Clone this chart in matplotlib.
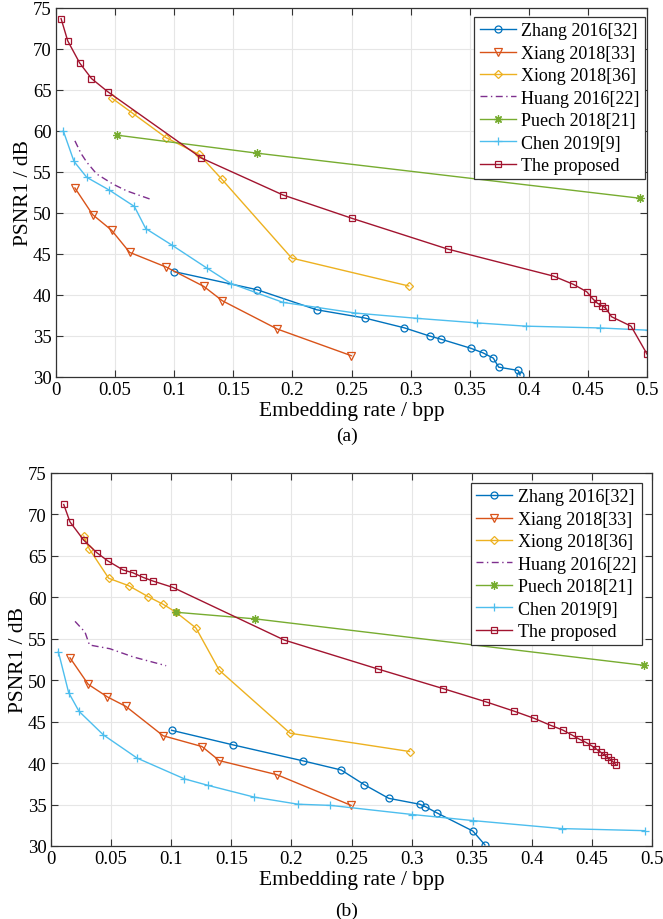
import numpy as np
import matplotlib

matplotlib.use("Agg")
import matplotlib.pyplot as plt

plt.rcParams["font.family"] = ["Liberation Serif", "DejaVu Serif"]

# ---- panel (a) ----
a_zhang_x = [0.100, 0.170, 0.2205, 0.261, 0.2946, 0.316, 0.326, 0.351, 0.361, 0.370, 0.3745, 0.391, 0.3926]
a_zhang_y = [42.85, 40.65, 38.2, 37.2, 36.0, 35.0, 34.6, 33.5, 32.96, 32.3, 31.2, 30.8, 30.24]
a_xiang_x = [0.016, 0.031, 0.047, 0.0623, 0.0933, 0.125, 0.1407, 0.1872, 0.2498]
a_xiang_y = [53.05, 49.8, 47.9, 45.2, 43.4, 41.05, 39.3, 35.85, 32.6]
a_xiong_x = [0.0474, 0.0645, 0.093, 0.121, 0.1404, 0.1994, 0.2984]
a_xiong_y = [64.0, 62.2, 59.2, 57.15, 54.1, 44.5, 41.1]
a_huang_x = [0.016, 0.021, 0.026, 0.0344, 0.0485, 0.0598, 0.0795]
a_huang_y = [58.8, 57.3, 56.2, 54.76, 53.5, 52.7, 51.7]
a_puech_x = [0.0513, 0.1698, 0.494]
a_puech_y = [59.5, 57.3, 51.8]
a_chen_x = [0.0062, 0.0152, 0.026, 0.045, 0.0663, 0.0759, 0.0979, 0.128, 0.148, 0.192,
            0.2532, 0.3057, 0.356, 0.3974, 0.4605, 0.502]
a_chen_y = [60.0, 56.3, 54.35, 52.8, 50.8, 48.1, 46.1, 43.25, 41.4, 39.1,
            37.8, 37.15, 36.6, 36.2, 35.98, 35.7]
a_prop_x = [0.0043, 0.0099, 0.020, 0.030, 0.0437, 0.123, 0.192, 0.2504, 0.3314, 0.421, 0.4377,
            0.449, 0.454, 0.458, 0.4617, 0.4648, 0.470, 0.4865, 0.500]
a_prop_y = [73.7, 71.0, 68.3, 66.4, 64.8, 56.7, 52.2, 49.35, 45.6, 42.3, 41.3,
            40.4, 39.55, 39.0, 38.7, 38.45, 37.35, 36.2, 32.8]

# ---- panel (b) ----
b_zhang_x = [0.1003, 0.1514, 0.210, 0.2414, 0.2606, 0.281, 0.3067, 0.3114, 0.321, 0.351, 0.361]
b_zhang_y = [43.96, 42.2, 40.26, 39.17, 37.4, 35.75, 35.04, 34.75, 34.0, 31.8, 30.13]
b_xiang_x = [0.0158, 0.031, 0.047, 0.0622, 0.0933, 0.1256, 0.140, 0.188, 0.2497]
b_xiang_y = [52.7, 49.5, 47.98, 46.85, 43.3, 42.0, 40.3, 38.6, 34.9]
b_xiong_x = [0.0272, 0.032, 0.048, 0.0647, 0.0806, 0.0933, 0.104, 0.1206, 0.140, 0.199, 0.2983]
b_xiong_y = [67.4, 65.8, 62.3, 61.4, 60.1, 59.16, 58.2, 56.3, 51.2, 43.6, 41.4]
b_huang_x = [0.020, 0.0283, 0.032, 0.049, 0.0686, 0.0958]
b_huang_y = [57.1, 55.8, 54.25, 53.8, 52.8, 51.75]
b_puech_x = [0.104, 0.170, 0.493]
b_puech_y = [58.2, 57.4, 51.8]
b_chen_x = [0.0061, 0.0147, 0.0233, 0.0436, 0.0717, 0.111, 0.131, 0.169, 0.2056, 0.2325,
            0.3006, 0.3514, 0.425, 0.494]
b_chen_y = [53.45, 48.5, 46.25, 43.4, 40.6, 38.1, 37.3, 35.9, 35.04, 34.9,
            33.8, 33.06, 32.1, 31.85]
b_prop_x = [0.0106, 0.0158, 0.0272, 0.038, 0.0472, 0.060, 0.068, 0.0767, 0.0847, 0.1014, 0.194,
            0.272, 0.326, 0.3617, 0.3856, 0.402, 0.4156, 0.4256, 0.4333, 0.4394, 0.445,
            0.4497, 0.4536, 0.4575, 0.460, 0.463, 0.4658, 0.468, 0.470]
b_prop_y = [71.2, 69.1, 66.9, 65.4, 64.4, 63.3, 62.97, 62.4, 61.97, 61.2, 54.85,
            51.35, 49.0, 47.4, 46.25, 45.4, 44.56, 44.0, 43.4, 42.9, 42.5,
            42.1, 41.7, 41.3, 41.0, 40.7, 40.4, 40.1, 39.8]

labels = ["Zhang 2016[32]", "Xiang 2018[33]", "Xiong 2018[36]", "Huang 2016[22]",
          "Puech 2018[21]", "Chen 2019[9]", "The proposed"]
colors = ["#0072BD", "#D95319", "#EDB120", "#7E2F8E", "#77AC30", "#4DBEEE", "#A2142F"]
markers = ["o", "v", "D", None, (8, 2, 0), "+", "s"]
msizes = [5, 5.5, 4.5, 0, 6, 6, 4]

panels = [
    ([(a_zhang_x, a_zhang_y), (a_xiang_x, a_xiang_y), (a_xiong_x, a_xiong_y), (a_huang_x, a_huang_y),
      (a_puech_x, a_puech_y), (a_chen_x, a_chen_y), (a_prop_x, a_prop_y)],
     [56 / 663, 1 - 378 / 920, 591 / 663, 369 / 920], (0.9966, 0.9756), "(a)", 436),
    ([(b_zhang_x, b_zhang_y), (b_xiang_x, b_xiang_y), (b_xiong_x, b_xiong_y), (b_huang_x, b_huang_y),
      (b_puech_x, b_puech_y), (b_chen_x, b_chen_y), (b_prop_x, b_prop_y)],
     [51 / 663, 1 - 847 / 920, 601 / 663, 373 / 920], (0.983, 0.973), "(b)", 911),
]

fig = plt.figure(figsize=(6.63, 9.2), dpi=100)
for series, rect, anchor, cap, cap_y in panels:
    ax = fig.add_axes(rect)
    for (x, y), lab, c, m, ms in zip(series, labels, colors, markers, msizes):
        if m is None:
            ax.plot(x, y, color=c, lw=1.0, ls=(0, (5, 2.5, 1, 2.5)), label=lab)
        else:
            ax.plot(x, y, color=c, lw=1.0, marker=m, ms=ms, mfc="none", mew=0.9, label=lab)
    ax.set_xlim(0, 0.5)
    ax.set_ylim(30, 75)
    ax.set_xticks(np.arange(0, 0.501, 0.05), ["0", "0.05", "0.1", "0.15", "0.2", "0.25", "0.3",
                                               "0.35", "0.4", "0.45", "0.5"])
    ax.set_yticks(np.arange(30, 76, 5))
    ax.grid(True, color="#e6e6e6", lw=0.8)
    ax.tick_params(direction="in", top=True, right=True, labelsize=13.5, length=5,
                   color="#333333", pad=3)
    for s in ax.spines.values():
        s.set_color("#333333")
        s.set_linewidth(0.9)
    ax.set_xlabel("Embedding rate / bpp", fontsize=15.5, labelpad=2)
    ax.set_ylabel("PSNR1 / dB", fontsize=15.5, labelpad=0)
    leg = ax.legend(loc="upper right", bbox_to_anchor=anchor, fontsize=13, frameon=True,
                    fancybox=False, edgecolor="#333333", framealpha=1, labelspacing=0.3,
                    handlelength=2.0, handletextpad=0.3, borderpad=0.3, borderaxespad=0)
    leg.get_frame().set_linewidth(0.9)
    fig.text(0.523, 1 - cap_y / 920, cap, ha="center", va="center", fontsize=14)

fig.savefig("out.png", dpi=100)
